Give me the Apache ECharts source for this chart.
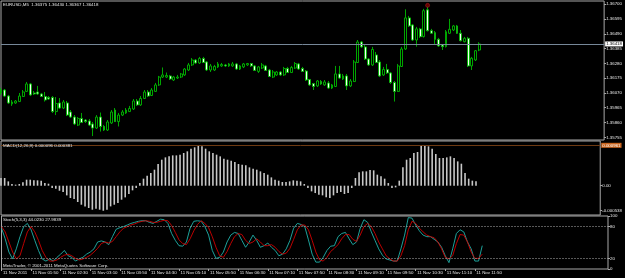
<!DOCTYPE html>
<html><head><meta charset="utf-8">
<script src="https://cdn.jsdelivr.net/npm/echarts@6/dist/echarts.min.js"></script>
<style>html,body{margin:0;padding:0;background:#000;}#c{width:625px;height:278px;}</style>
</head><body><div id="c"></div>
<script>
const barOpen = [1.36070,1.36091,1.36048,1.35992,1.35999,1.36009,1.36045,1.36081,1.36134,1.36070,
1.36077,1.36063,1.36045,1.36038,1.36038,1.35938,1.35999,1.35963,1.35999,1.35935,
1.35899,1.35842,1.35889,1.35878,1.35871,1.35850,1.35821,1.35899,1.35832,1.35807,
1.35857,1.35949,1.35867,1.35913,1.35928,1.35938,1.35956,1.36013,1.35985,1.36031,
1.36077,1.36052,1.36081,1.36127,1.36183,1.36183,1.36191,1.36162,1.36176,1.36183,
1.36198,1.36233,1.36269,1.36304,1.36283,1.36315,1.36290,1.36233,1.36233,1.36255,
1.36262,1.36269,1.36262,1.36262,1.36276,1.36240,1.36255,1.36269,1.36279,1.36262,
1.36223,1.36247,1.36262,1.36233,1.36183,1.36198,1.36219,1.36198,1.36244,1.36215,
1.36247,1.36276,1.36244,1.36226,1.36166,1.36137,1.36120,1.36151,1.36127,1.36141,
1.36105,1.36116,1.36205,1.36169,1.36191,1.36120,1.36151,1.36286,1.36432,1.36397,
1.36311,1.36269,1.36340,1.36290,1.36198,1.36237,1.36212,1.36144,1.36081,1.36258,
1.36382,1.36603,1.36553,1.36446,1.36525,1.36470,1.36660,1.36512,1.36498,1.36451,
1.36411,1.36399,1.36494,1.36517,1.36546,1.36494,1.36434,1.36458,1.36262,1.36304,
1.36375];
const barClose = [1.36091,1.36048,1.35999,1.36006,1.36013,1.36048,1.36077,1.36134,1.36056,1.36063,
1.36063,1.36045,1.36020,1.36027,1.35938,1.35995,1.35963,1.36006,1.35913,1.35899,
1.35850,1.35889,1.35860,1.35867,1.35842,1.35821,1.35899,1.35832,1.35807,1.35864,
1.35935,1.35867,1.35913,1.35935,1.35949,1.35960,1.36013,1.35985,1.36031,1.36077,
1.36048,1.36091,1.36127,1.36183,1.36198,1.36194,1.36169,1.36183,1.36183,1.36205,
1.36240,1.36269,1.36304,1.36283,1.36315,1.36286,1.36233,1.36262,1.36258,1.36276,
1.36272,1.36262,1.36276,1.36276,1.36240,1.36262,1.36276,1.36279,1.36262,1.36230,
1.36255,1.36269,1.36230,1.36187,1.36219,1.36219,1.36198,1.36244,1.36215,1.36251,
1.36279,1.36240,1.36223,1.36162,1.36127,1.36116,1.36155,1.36134,1.36148,1.36105,
1.36127,1.36205,1.36176,1.36191,1.36120,1.36155,1.36290,1.36432,1.36397,1.36311,
1.36269,1.36379,1.36286,1.36191,1.36237,1.36212,1.36144,1.36081,1.36262,1.36382,
1.36603,1.36546,1.36446,1.36525,1.36470,1.36654,1.36512,1.36494,1.36451,1.36404,
1.36399,1.36505,1.36522,1.36546,1.36494,1.36441,1.36458,1.36262,1.36316,1.36370,
1.36418];
const barLow = [1.36056,1.36041,1.35992,1.35978,1.35992,1.36006,1.36041,1.36077,1.36048,1.36056,
1.36056,1.36041,1.36009,1.36020,1.35928,1.35913,1.35956,1.35956,1.35906,1.35892,
1.35842,1.35835,1.35857,1.35857,1.35835,1.35764,1.35814,1.35796,1.35800,1.35800,
1.35850,1.35864,1.35832,1.35906,1.35921,1.35935,1.35949,1.35978,1.35978,1.36027,
1.36041,1.36048,1.36077,1.36120,1.36176,1.36176,1.36162,1.36155,1.36169,1.36176,
1.36191,1.36226,1.36262,1.36276,1.36276,1.36283,1.36226,1.36219,1.36226,1.36247,
1.36255,1.36255,1.36255,1.36255,1.36233,1.36233,1.36247,1.36262,1.36255,1.36226,
1.36212,1.36240,1.36226,1.36183,1.36176,1.36191,1.36191,1.36191,1.36212,1.36212,
1.36240,1.36233,1.36219,1.36155,1.36120,1.36091,1.36112,1.36127,1.36120,1.36098,
1.36098,1.36112,1.36169,1.36162,1.36091,1.36112,1.36148,1.36283,1.36390,1.36304,
1.36262,1.36262,1.36283,1.36183,1.36191,1.36205,1.36134,1.36009,1.36077,1.36255,
1.36375,1.36539,1.36439,1.36399,1.36461,1.36464,1.36507,1.36489,1.36418,1.36397,
1.36375,1.36393,1.36489,1.36510,1.36489,1.36436,1.36429,1.36255,1.36233,1.36297,
1.36367];
const barHigh = [1.36105,1.36098,1.36056,1.36020,1.36020,1.36070,1.36091,1.36148,1.36141,1.36084,
1.36120,1.36070,1.36077,1.36048,1.36048,1.36041,1.36034,1.36020,1.36013,1.35949,
1.35913,1.35899,1.35928,1.35885,1.35885,1.35864,1.35913,1.35931,1.35842,1.35878,
1.35949,1.35963,1.35928,1.35949,1.35963,1.35978,1.36027,1.36027,1.36048,1.36091,
1.36091,1.36105,1.36141,1.36191,1.36251,1.36215,1.36198,1.36191,1.36198,1.36212,
1.36247,1.36283,1.36318,1.36311,1.36326,1.36326,1.36297,1.36276,1.36269,1.36290,
1.36283,1.36276,1.36283,1.36290,1.36283,1.36269,1.36283,1.36283,1.36283,1.36269,
1.36262,1.36283,1.36269,1.36240,1.36233,1.36226,1.36226,1.36255,1.36255,1.36262,
1.36290,1.36283,1.36255,1.36233,1.36169,1.36141,1.36162,1.36162,1.36162,1.36155,
1.36134,1.36262,1.36262,1.36205,1.36205,1.36169,1.36304,1.36446,1.36439,1.36411,
1.36318,1.36397,1.36361,1.36304,1.36255,1.36276,1.36219,1.36155,1.36276,1.36397,
1.36664,1.36617,1.36560,1.36539,1.36532,1.36667,1.36683,1.36525,1.36510,1.36461,
1.36418,1.36517,1.36596,1.36553,1.36553,1.36517,1.36468,1.36468,1.36326,1.36375,
1.36430];
const macdHist = [0.000165,0.000165,0.000093,0.000036,0.000022,0.000036,0.000072,0.000129,0.000129,0.000115,
0.000115,0.000108,0.000057,0.000043,-0.000050,-0.000065,-0.000108,-0.000136,-0.000208,-0.000265,
-0.000287,-0.000351,-0.000409,-0.000445,-0.000480,-0.000516,-0.000495,-0.000516,-0.000538,-0.000516,
-0.000445,-0.000409,-0.000373,-0.000301,-0.000251,-0.000179,-0.000100,-0.000050,0.000057,0.000151,
0.000215,0.000272,0.000344,0.000466,0.000559,0.000609,0.000631,0.000652,0.000652,0.000667,
0.000703,0.000739,0.000796,0.000825,0.000853,0.000846,0.000796,0.000739,0.000703,0.000667,
0.000631,0.000581,0.000559,0.000538,0.000509,0.000466,0.000452,0.000437,0.000394,0.000366,
0.000344,0.000308,0.000272,0.000237,0.000179,0.000129,0.000108,0.000079,0.000079,0.000093,
0.000115,0.000108,0.000093,0.000036,-0.000050,-0.000122,-0.000158,-0.000194,-0.000208,-0.000251,
-0.000265,-0.000208,-0.000158,-0.000136,-0.000179,-0.000158,-0.000050,0.000165,0.000287,0.000308,
0.000308,0.000337,0.000330,0.000237,0.000201,0.000151,0.000057,-0.000050,-0.000036,0.000108,
0.000394,0.000559,0.000595,0.000703,0.000724,0.000868,0.000868,0.000846,0.000796,0.000681,
0.000595,0.000595,0.000609,0.000631,0.000595,0.000523,0.000473,0.000272,0.000151,0.000108,
0.000096];
const stochMain = [77,57,32,19,38,61,80,86,74,54,
35,19,15,19,15,22,28,35,25,22,
15,19,22,28,32,38,51,53,51,46,
61,75,78,80,83,86,88,90,91,91,
88,86,90,94,93,86,67,54,44,43,
51,77,90,91,90,80,64,35,20,22,
32,51,64,69,67,54,41,51,64,54,
41,44,49,41,35,25,28,38,54,77,
86,84,80,55,28,13,13,22,35,43,
44,61,67,69,57,46,51,77,93,88,
70,54,38,26,19,17,15,15,38,64,
97,96,83,72,64,61,61,56,51,41,
25,12,38,67,74,70,51,38,15,15,
44.02];
const stochSignal = [80,70,51,32,19,25,48,70,80,70,
54,35,22,15,15,17,22,26,28,25,
20,17,19,22,26,32,39,48,51,49,
52,61,70,77,80,83,85,88,90,91,
90,88,88,90,92,91,82,69,55,48,
46,57,72,84,91,86,78,61,41,25,
22,33,48,61,67,65,54,48,51,57,
51,44,44,46,41,33,28,30,39,56,
74,83,83,74,54,32,17,15,22,33,
39,46,57,65,65,56,52,64,80,86,
80,67,51,38,25,19,15,15,25,44,
74,90,86,77,70,64,61,59,51,38,
22,19,25,48,65,64,51,32,20,20,
27.98];
const timeLabels = ["11 Nov 2011","11 Nov 01:50","11 Nov 02:30","11 Nov 03:10","11 Nov 03:50","11 Nov 04:30",
"11 Nov 05:10","11 Nov 05:50","11 Nov 06:30","11 Nov 07:10","11 Nov 07:50","11 Nov 08:30","11 Nov 09:10",
"11 Nov 09:50","11 Nov 10:30","11 Nov 11:10","11 Nov 11:50"];
const priceTicks = [1.36700,1.36595,1.36490,1.36385,1.36280,1.36175,1.36070,1.35965,1.35860,1.35755];
const macdTicks = [0, -0.000538];
const stochTicks = [0, 20, 80, 100];
const stochLevels = [80, 20];
const fractalUp = [[116, 1.36692]];
const lastPrice = 1.36418;
const macdLevel = 0.000868;
const macdLevelText = "0.000961";
const slotCount = 165;
const labelEvery = 8;

const categories = Array.from({length: slotCount}, (_, i) => String(i));
const candles = barOpen.map((o, i) => [o, barClose[i], barLow[i], barHigh[i]]);

const FONT = 'Liberation Sans';
const FS = 4.4;
const TXT = '#e6e6e6';
const BORDER = '#a8a8a8';
const GREEN = '#00b800';
const isLabelIdx = (idx) => idx % labelEvery === 0 && idx / labelEvery < timeLabels.length;

function xAx(gi, showLabels) {
  return {
    type: 'category', gridIndex: gi, data: categories, boundaryGap: false,
    axisLine: {show: false},
    axisTick: showLabels ? {show: true, interval: (i) => isLabelIdx(i), length: 2, lineStyle: {color: BORDER}} : {show: false},
    axisLabel: showLabels ? {
      show: true, interval: (i) => isLabelIdx(i), formatter: (v, i) => timeLabels[i / labelEvery],
      align: 'left', color: TXT, fontSize: FS, fontFamily: FONT, margin: 2, padding: [0, 0, 0, 1.5]
    } : {show: false},
    splitLine: {show: false}
  };
}
function yAx(gi, min, max, ticks, fmt) {
  return {
    type: 'value', gridIndex: gi, position: 'right', min: min, max: max, scale: true,
    axisLine: {show: false},
    axisTick: {show: true, customValues: ticks, length: 2, lineStyle: {color: BORDER}},
    axisLabel: {show: true, customValues: ticks, formatter: fmt, color: TXT, fontSize: FS, fontFamily: FONT, margin: 2},
    splitLine: {show: false}
  };
}

const chart = echarts.init(document.getElementById('c'), null, {renderer: 'canvas'});
chart.setOption({
  backgroundColor: '#000000',
  animation: false,
  title: [
    {text: 'EURUSD,M5  1.36375 1.36430 1.36367 1.36418', left: 3, top: 2.5},
    {text: 'MACD(12,26,9) 0.000096 0.000381', left: 3, top: 143.5},
    {text: 'Stoch(5,3,3) 44.0230 27.9839', left: 3, top: 217.5},
    {text: 'MetaTrader, © 2001-2011 MetaQuotes Software Corp.', left: 3, top: 263.5}
  ].map(t => Object.assign(t, {padding: 0, textStyle: {color: TXT, fontSize: FS, fontFamily: FONT, fontWeight: 'normal'}})),
  grid: [
    {left: 1, right: 17, top: 1, height: 139, show: true, borderColor: BORDER, borderWidth: 1, backgroundColor: '#000'},
    {left: 1, right: 17, top: 141, height: 74, show: true, borderColor: BORDER, borderWidth: 1, backgroundColor: '#000'},
    {left: 1, right: 17, top: 216, height: 53, show: true, borderColor: BORDER, borderWidth: 1, backgroundColor: '#000'}
  ],
  xAxis: [xAx(0, false), xAx(1, false), xAx(2, true)],
  yAxis: [
    yAx(0, 1.35736, 1.36723, priceTicks, v => v.toFixed(5)),
    yAx(1, -0.000630, 0.000961, macdTicks, v => v === 0 ? '0.00' : v.toFixed(6)),
    yAx(2, 0, 100, stochTicks, v => String(v))
  ],
  series: [
    {
      type: 'candlestick', xAxisIndex: 0, yAxisIndex: 0, data: candles, barWidth: 2.4,
      itemStyle: {color: '#000000', color0: '#f4fff4', borderColor: GREEN, borderColor0: GREEN, borderWidth: 0.9},
      markLine: {
        silent: true, symbol: 'none', animation: false, precision: 6,
        lineStyle: {color: '#778899', width: 1, type: 'solid'},
        label: {show: true, position: 'end', distance: 1, formatter: () => lastPrice.toFixed(5),
          backgroundColor: '#ffffff', color: '#000000', fontSize: FS, fontFamily: FONT, padding: [0.5, 1]},
        data: [{yAxis: lastPrice}]
      }
    },
    {
      type: 'scatter', xAxisIndex: 0, yAxisIndex: 0, data: fractalUp, symbol: 'circle', symbolSize: 4,
      itemStyle: {color: '#7a0000', borderColor: '#c02020', borderWidth: 0.6}
    },
    {
      type: 'bar', xAxisIndex: 1, yAxisIndex: 1, data: macdHist, barWidth: 1.6,
      itemStyle: {color: '#c8c8c8'},
      markLine: {
        silent: true, symbol: 'none', animation: false, precision: 8,
        lineStyle: {color: '#6e3a12', width: 1, type: 'solid'},
        label: {show: true, position: 'end', distance: 1, formatter: () => macdLevelText,
          backgroundColor: '#c8641e', color: '#ffffff', fontSize: FS, fontFamily: FONT, padding: [0.5, 1]},
        data: [{yAxis: macdLevel}]
      }
    },
    {
      type: 'line', xAxisIndex: 2, yAxisIndex: 2, data: stochMain, showSymbol: false, symbol: 'none',
      lineStyle: {color: '#20b2aa', width: 0.9},
      markLine: {
        silent: true, symbol: 'none', animation: false,
        lineStyle: {color: '#b0b0b0', width: 1, type: [1, 2]},
        label: {show: false},
        data: stochLevels.map(v => ({yAxis: v}))
      }
    },
    {
      type: 'line', xAxisIndex: 2, yAxisIndex: 2, data: stochSignal, showSymbol: false, symbol: 'none',
      lineStyle: {color: '#d00000', width: 0.9}
    }
  ]
});
</script>
</body></html>
